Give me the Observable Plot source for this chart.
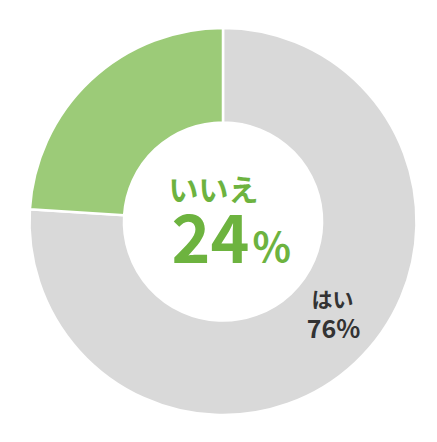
<!DOCTYPE html>
<html><head><meta charset="utf-8">
<script src="https://cdn.jsdelivr.net/npm/d3@7"></script>
<script src="https://cdn.jsdelivr.net/npm/@observablehq/plot@0.6"></script>
<style>body{margin:0;background:#fff}</style>
</head><body><div id="chart"></div>
<script>
const categories = ["はい", "いいえ"];
const values = [76, 24];
const colors = ["#d9d9d9", "#9ccb78"];

const data = categories.map((c, i) => ({label: c, value: values[i]}));
const color = Plot.scale({color: {domain: categories, range: colors}});
const font = "'Noto Sans CJK JP', sans-serif";

function donut(index, scales) {
  const cx = scales.x(0), cy = scales.y(0), r = scales.x(1) - cx;
  const arcs = d3.pie().sort(null).value(d => d.value)(data);
  const arc = d3.arc().innerRadius(r * 0.512).outerRadius(r);
  const g = d3.create("svg:g").attr("transform", `translate(${cx},${cy})`);
  g.selectAll("path").data(arcs).join("path")
    .attr("d", arc)
    .attr("fill", d => color.apply(d.data.label))
    .attr("stroke", "#fff").attr("stroke-width", 2.5);
  return g.node();
}

const chart = Plot.plot({
  width: 437, height: 442,
  marginLeft: 29.5, marginRight: 20.5, marginTop: 28, marginBottom: 27,
  x: {domain: [-1, 1], axis: null},
  y: {domain: [-1, 1], axis: null},
  style: {fontFamily: font, background: "#fff"},
  marks: [
    donut,
    Plot.text([data[1]], {x: 0, y: 0, text: d => d.label, dx: -10, dy: -31, fontSize: 30, fontWeight: 700, fill: "#6db33f", textAnchor: "middle", fontFamily: font}),
    Plot.text([data[1]], {x: 0, y: 0, text: d => String(d.value), dx: 26, dy: 19.5, fontSize: 66, fontWeight: 700, fill: "#6db33f", textAnchor: "end", fontFamily: font, letterSpacing: 1}),
    Plot.text([data[1]], {x: 0, y: 0, text: d => "%", dx: 29, dy: 27.5, fontSize: 40, fontWeight: 700, fill: "#6db33f", textAnchor: "start", fontFamily: font}),
    Plot.text([data[0]], {x: 0, y: 0, text: d => d.label, dx: 109, dy: 78, fontSize: 21, fontWeight: 700, fill: "#333", textAnchor: "middle", fontFamily: font}),
    Plot.text([data[0]], {x: 0, y: 0, text: d => d.value + "%", dx: 110, dy: 107.5, fontSize: 25, fontWeight: 700, fill: "#333", textAnchor: "middle", fontFamily: font})
  ]
});
document.getElementById("chart").append(chart);
</script>
</body></html>
